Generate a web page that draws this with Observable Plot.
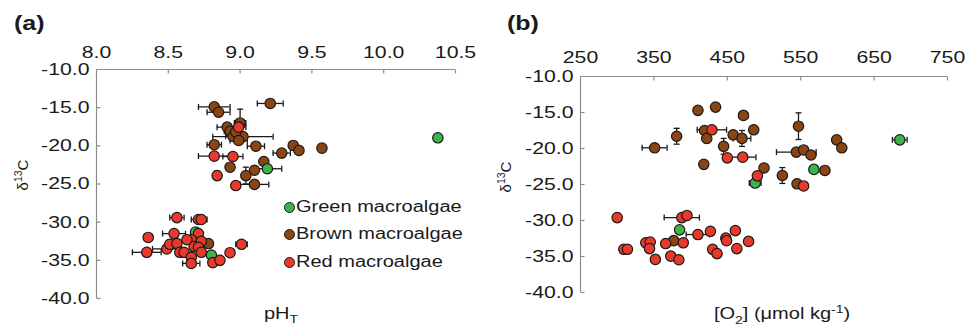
<!DOCTYPE html>
<html>
<head>
<meta charset="utf-8">
<script src="https://cdn.jsdelivr.net/npm/d3@7"></script>
<script src="https://cdn.jsdelivr.net/npm/@observablehq/plot@0.6"></script>
<style>
  body { margin: 0; background: #fff; }
  #wrap { position: relative; width: 971px; height: 330px; overflow: hidden; font-family: "Liberation Sans", Arial, sans-serif; color: #1a1a1a; }
  .svgbox { position: absolute; top: 0; }
  .lab { position: absolute; white-space: nowrap; transform-origin: left center; }
  .panel { font-weight: bold; font-size: 20px; transform: scaleX(1.25); }
  .xt { font-size: 16px; transform: translateX(-50%) scaleX(1.25); transform-origin: center center; }
  .yt { font-size: 15px; transform: translate(-50%,-50%) rotate(-90deg); transform-origin: center center; }
  .leg { font-size: 16px; display: flex; align-items: center; }
  .leg .dot { width: 9px; height: 9px; border-radius: 50%; border: 1.2px solid #1a1a1a; margin-right: 1px; }
  .leg .txt { display: inline-block; transform: scaleX(1.25); transform-origin: left center; }
  sub, sup { font-size: 70%; }
</style>
</head>
<body>
<div id="wrap">
  <div class="lab panel" style="left:14px; top:12px;">(a)</div>
  <div class="lab panel" style="left:507px; top:12px;">(b)</div>
  <div class="lab yt" style="left:21px; top:175px;">δ<sup>13</sup>C</div>
  <div class="lab yt" style="left:504px; top:177px;">δ<sup>13</sup>C</div>
  <div class="lab xt" style="left:281px; top:305px;">pH<sub>T</sub></div>
  <div class="lab xt" style="left:782px; top:303px;">[O<sub>2</sub>] (μmol kg<sup>-1</sup>)</div>
  <div id="pa" class="svgbox" style="left:0px;"></div>
  <div id="pb" class="svgbox" style="left:485px;"></div>
  <div id="legend"></div>
</div>
<script>
// ---------- data: [x, δ13C, x error, δ13C error] ----------
const seriesNames = ["Green macroalgae", "Brown macroalgae", "Red macroalgae"];
const seriesColors = ["#3bb44a", "#8b4513", "#e8392b"];

const phTicks = [8.0, 8.5, 9.0, 9.5, 10.0, 10.5];
const o2Ticks = [250, 350, 450, 550, 650, 750];
const d13cTicks = [-10, -15, -20, -25, -30, -35, -40];

const greenPH = [[10.377,-18.95,0,0],[9.19,-23.0,0.1,0],[8.69,-31.3,0,0],[8.80,-34.3,0,0]];
const brownPH = [
  [8.82,-14.9,0.11,0],[8.85,-15.6,0.08,0],[9.21,-14.45,0.09,0],[9.00,-17.0,0.04,1.8],
  [8.91,-17.55,0.07,0],[8.93,-18.1,0.04,0],[8.95,-18.75,0.05,0],[9.02,-18.8,0.21,0],
  [8.97,-18.2,0,0.5],[8.99,-19.3,0.06,0.4],[8.82,-19.85,0.05,0.5],[9.11,-20.05,0.06,0],
  [9.37,-19.95,0,0],[9.41,-20.6,0,0],[9.29,-20.95,0.06,0],[9.57,-20.3,0,0],
  [9.165,-22.05,0,0],[8.93,-22.8,0,0],[9.10,-23.2,0,0],[9.04,-23.9,0,1.1],
  [9.10,-25.05,0.10,0.4],[8.78,-32.8,0,0]
];
const redPH = [
  [8.99,-17.55,0.05,0.3],[8.82,-21.35,0.11,0],[8.95,-21.4,0.07,0],[8.84,-23.9,0,0.6],[8.97,-25.2,0,0],
  [8.56,-29.4,0.05,0],[8.71,-29.65,0.05,0.4],[8.73,-29.65,0.04,0],[8.36,-32.0,0,0.4],
  [8.54,-31.5,0.08,0],[8.71,-31.5,0,0],[8.35,-33.95,0.1,0],[8.49,-33.5,0.1,0],
  [8.51,-32.9,0,0],[8.56,-32.8,0,0],[8.66,-32.3,0,0],[8.63,-32.3,0,0],[8.73,-32.5,0,0],
  [8.68,-33.2,0,0],[8.71,-33.3,0,0],[8.58,-33.95,0,0],[8.61,-33.95,0.05,0],
  [8.73,-33.95,0,0],[8.66,-34.6,0,0],[8.66,-35.4,0.06,0],[8.81,-35.3,0,0],
  [8.86,-35.0,0,0],[8.93,-34.0,0,0],[9.01,-32.9,0.04,0]
];

const greenO2 = [[685,-18.8,10,0],[568,-22.9,0,0],[488,-24.8,8,0],[385,-31.3,0,0]];
const brownO2 = [
  [410,-14.7,0,0],[434,-14.25,4,0],[472,-15.4,6,0],[381,-18.3,0,1.1],[351,-19.9,17,0],
  [419,-17.5,0,0],[422,-18.6,0,0.6],[445,-19.7,0,1.1],[458,-18.1,0,0],[470,-18.6,12,1.1],
  [486,-17.4,4,0],[418,-22.2,0,0],[547,-16.9,0,1.85],[544,-20.5,27,0],[554,-20.2,0,0],
  [564,-20.9,6,0],[599,-18.8,0,0],[606,-19.9,4,0],[500,-22.7,0,0],[525,-23.75,4,1.1],
  [545,-24.9,0,0.6],[583,-23.05,0,0],[377,-32.8,0,0]
];
const redO2 = [
  [429,-17.4,20,0],[450,-21.3,0,0.4],[471,-21.2,18,0],[491,-23.8,0,0],[554,-25.2,0,0],
  [300,-29.6,0,0.5],[388,-29.6,24,0],[395,-29.3,0,0],[309,-34.0,4,0],[314,-34.0,0,0],
  [339,-33.1,0,0],[345,-33.0,4,0],[344,-33.9,0,0],[366,-33.2,0,0],[390,-33.1,0,0],
  [410,-31.95,16,0],[427,-31.5,4,0],[448,-32.45,0,0],[449,-32.8,0,0],[461,-31.4,0,0],
  [479,-32.9,5,0],[463,-33.9,0,0],[430,-34.0,0,0],[436,-34.6,4,0],[352,-35.4,5,0],
  [373,-34.95,0,0],[384,-35.45,0,0]
];

// ---------- drawing ----------
const FONT = '"Liberation Sans", Arial, sans-serif';
const AXIS = "#8c8c8c";
const INK = "#1a1a1a";
const STRETCH = 1.25;

const vCap = {draw(ctx, size) { const r = Math.sqrt(size / Math.PI); ctx.moveTo(0, -r); ctx.lineTo(0, r); }};
const hCap = {draw(ctx, size) { const r = Math.sqrt(size / Math.PI); ctx.moveTo(-r, 0); ctx.lineTo(r, 0); }};
const tickDown = {draw(ctx, size) { const r = Math.sqrt(size / Math.PI); ctx.moveTo(0, 0); ctx.lineTo(0, r); }};
const tickRight = {draw(ctx, size) { const r = Math.sqrt(size / Math.PI); ctx.moveTo(0, 0); ctx.lineTo(r, 0); }};

function errorMarks(data) {
  const hx = data.filter(d => d[2] > 0), vy = data.filter(d => d[3] > 0);
  return [
    Plot.ruleY(hx, {y: d => d[1], x1: d => d[0] - d[2], x2: d => d[0] + d[2], stroke: INK, strokeWidth: 1.3}),
    Plot.dot(hx, {x: d => d[0] - d[2], y: d => d[1], symbol: vCap, r: 3, stroke: INK, strokeWidth: 1.3}),
    Plot.dot(hx, {x: d => d[0] + d[2], y: d => d[1], symbol: vCap, r: 3, stroke: INK, strokeWidth: 1.3}),
    Plot.ruleX(vy, {x: d => d[0], y1: d => d[1] - d[3], y2: d => d[1] + d[3], stroke: INK, strokeWidth: 1.3}),
    Plot.dot(vy, {x: d => d[0], y: d => d[1] - d[3], symbol: hCap, r: 3, stroke: INK, strokeWidth: 1.3}),
    Plot.dot(vy, {x: d => d[0], y: d => d[1] + d[3], symbol: hCap, r: 3, stroke: INK, strokeWidth: 1.3})
  ];
}

function stretchText(svg) {
  svg.querySelectorAll("text").forEach(t => {
    let x = parseFloat(t.getAttribute("x"));
    if (!isFinite(x)) x = 0;
    const tr = t.getAttribute("transform") || "";
    t.setAttribute("transform", `${tr} translate(${x},0) scale(${STRETCH},1) translate(${-x},0)`.trim());
  });
}

function panel(groups, xTicks, xFmt, geom) {
  const xDom = [xTicks[0], xTicks[xTicks.length - 1]];
  const yDom = [-40, -10];
  const order = [1, 0, 2]; // brown, green, red
  const marks = [
    Plot.ruleY([yDom[1]], {stroke: AXIS, strokeWidth: 1.2}),
    Plot.ruleX([xDom[0]], {stroke: AXIS, strokeWidth: 1.2}),
    Plot.dot(xTicks.slice(1), {x: d => d, y: yDom[1], symbol: tickDown, r: 4, stroke: AXIS, strokeWidth: 1.2}),
    Plot.dot(d13cTicks.slice(1), {x: xDom[0], y: d => d, symbol: tickRight, r: 4, stroke: AXIS, strokeWidth: 1.2})
  ];
  groups.forEach(g => marks.push(...errorMarks(g)));
  order.forEach(i => marks.push(Plot.dot(groups[i], {x: d => d[0], y: d => d[1], r: 5.2, fill: seriesColors[i], stroke: INK, strokeWidth: 1.2})));
  const svg = Plot.plot({
    width: geom.width, height: 330,
    marginLeft: geom.ml, marginRight: geom.mr, marginTop: geom.mt, marginBottom: geom.mb,
    style: {fontFamily: FONT, fontSize: "17px", color: INK, background: "transparent", overflow: "visible"},
    x: {domain: xDom, axis: "top", ticks: xTicks, tickFormat: xFmt, tickSize: 0, tickPadding: geom.xpad, label: null},
    y: {domain: yDom, ticks: d13cTicks, tickFormat: d => d.toFixed(1), tickSize: 0, tickPadding: 7, label: null},
    marks
  });
  stretchText(svg);
  return svg;
}

document.getElementById("pa").appendChild(
  panel([greenPH, brownPH, redPH], phTicks, d => d.toFixed(1), {width: 485, ml: 96, mr: 30, mt: 69, mb: 32, xpad: 12})
);
document.getElementById("pb").appendChild(
  panel([greenO2, brownO2, redO2], o2Ticks, d => String(d), {width: 486, ml: 95, mr: 24, mt: 76, mb: 38, xpad: 14})
);

// legend
const legend = document.getElementById("legend");
const legendTops = [207, 234, 262];
seriesNames.forEach((name, i) => {
  const row = document.createElement("div");
  row.className = "lab leg";
  row.style.left = "284px";
  row.style.top = (legendTops[i] - 10) + "px";
  row.style.height = "20px";
  row.innerHTML = `<span class="dot" style="background:${seriesColors[i]}"></span><span class="txt">${name}</span>`;
  legend.appendChild(row);
});
</script>
</body>
</html>
